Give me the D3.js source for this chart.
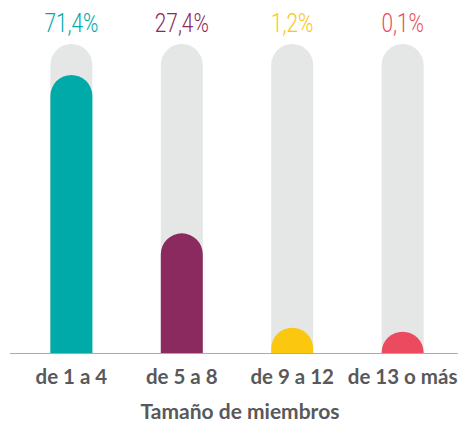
<!DOCTYPE html>
<html>
<head>
<meta charset="utf-8">
<script src="https://cdn.jsdelivr.net/npm/d3@7"></script>
<style>
  body { margin: 0; background: #fff; }
  svg { display: block; }
</style>
</head>
<body>
<div id="chart"></div>
<script>
// data
const categories = ["de 1 a 4", "de 5 a 8", "de 9 a 12", "de 13 o más"];
const values = [71.4, 27.4, 1.2, 0.1];
const valueLabels = ["71,4%", "27,4%", "1,2%", "0,1%"];
const colors = ["#00aaa9", "#8b2a5e", "#fcc70f", "#ec4a5e"];
const axisTitle = "Tamaño de miembros";
const trackMax = 80;

const width = 458, height = 423;
const margin = { top: 65, left: 16, right: 0, baseline: 353 };
const barW = 42, r = barW / 2;

const svg = d3.select("#chart").append("svg")
    .attr("width", width)
    .attr("height", height);

const x = d3.scaleBand()
    .domain(categories)
    .range([margin.left, width - margin.right])
    .paddingInner(0.617)
    .paddingOuter(0.31);

const y = d3.scaleLinear()
    .domain([0, trackMax])
    .range([margin.baseline, margin.top]);

// rounded-top bar: straight part up to y(v), then a half circle on top
function pill(cx, v) {
  const x0 = cx - r, x1 = cx + r;
  const yt = y(v);
  return `M${x0},${margin.baseline} L${x0},${yt} A${r},${r} 0 0 1 ${x1},${yt} L${x1},${margin.baseline} Z`;
}

const cx = d => x(d) + x.bandwidth() / 2;

// grey tracks
svg.append("g").selectAll("path")
  .data(categories)
  .join("path")
    .attr("fill", "#e4e7e6")
    .attr("d", d => pill(cx(d), trackMax));

// value bars
svg.append("g").selectAll("path")
  .data(categories)
  .join("path")
    .attr("fill", (d, i) => colors[i])
    .attr("d", (d, i) => pill(cx(d), values[i]));

// baseline
svg.append("line")
    .attr("x1", 10).attr("x2", width)
    .attr("y1", margin.baseline + 0.5).attr("y2", margin.baseline + 0.5)
    .attr("stroke", "#a9abab")
    .attr("stroke-width", 1);

// percentages (squeezed horizontally to mimic the condensed face)
svg.append("g").selectAll("text")
  .data(categories)
  .join("text")
    .attr("transform", d => `translate(${cx(d)},32) scale(0.8,1)`)
    .attr("text-anchor", "middle")
    .attr("fill", (d, i) => colors[i])
    .style("font-family", "Roboto, sans-serif")
    .style("font-weight", 300)
    .style("font-size", "26px")
    .text((d, i) => valueLabels[i]);

// category labels
svg.append("g").selectAll("text")
  .data(categories)
  .join("text")
    .attr("x", d => cx(d))
    .attr("y", 384)
    .attr("text-anchor", "middle")
    .attr("fill", "#58595b")
    .style("font-family", "Lato, sans-serif")
    .style("font-weight", 700)
    .style("font-size", "20.5px")
    .text(d => d);

svg.append("text")
    .attr("x", 240)
    .attr("y", 419)
    .attr("text-anchor", "middle")
    .attr("fill", "#58595b")
    .style("font-family", "Lato, sans-serif")
    .style("font-weight", 700)
    .style("font-size", "21px")
    .text(axisTitle);
</script>
</body>
</html>
